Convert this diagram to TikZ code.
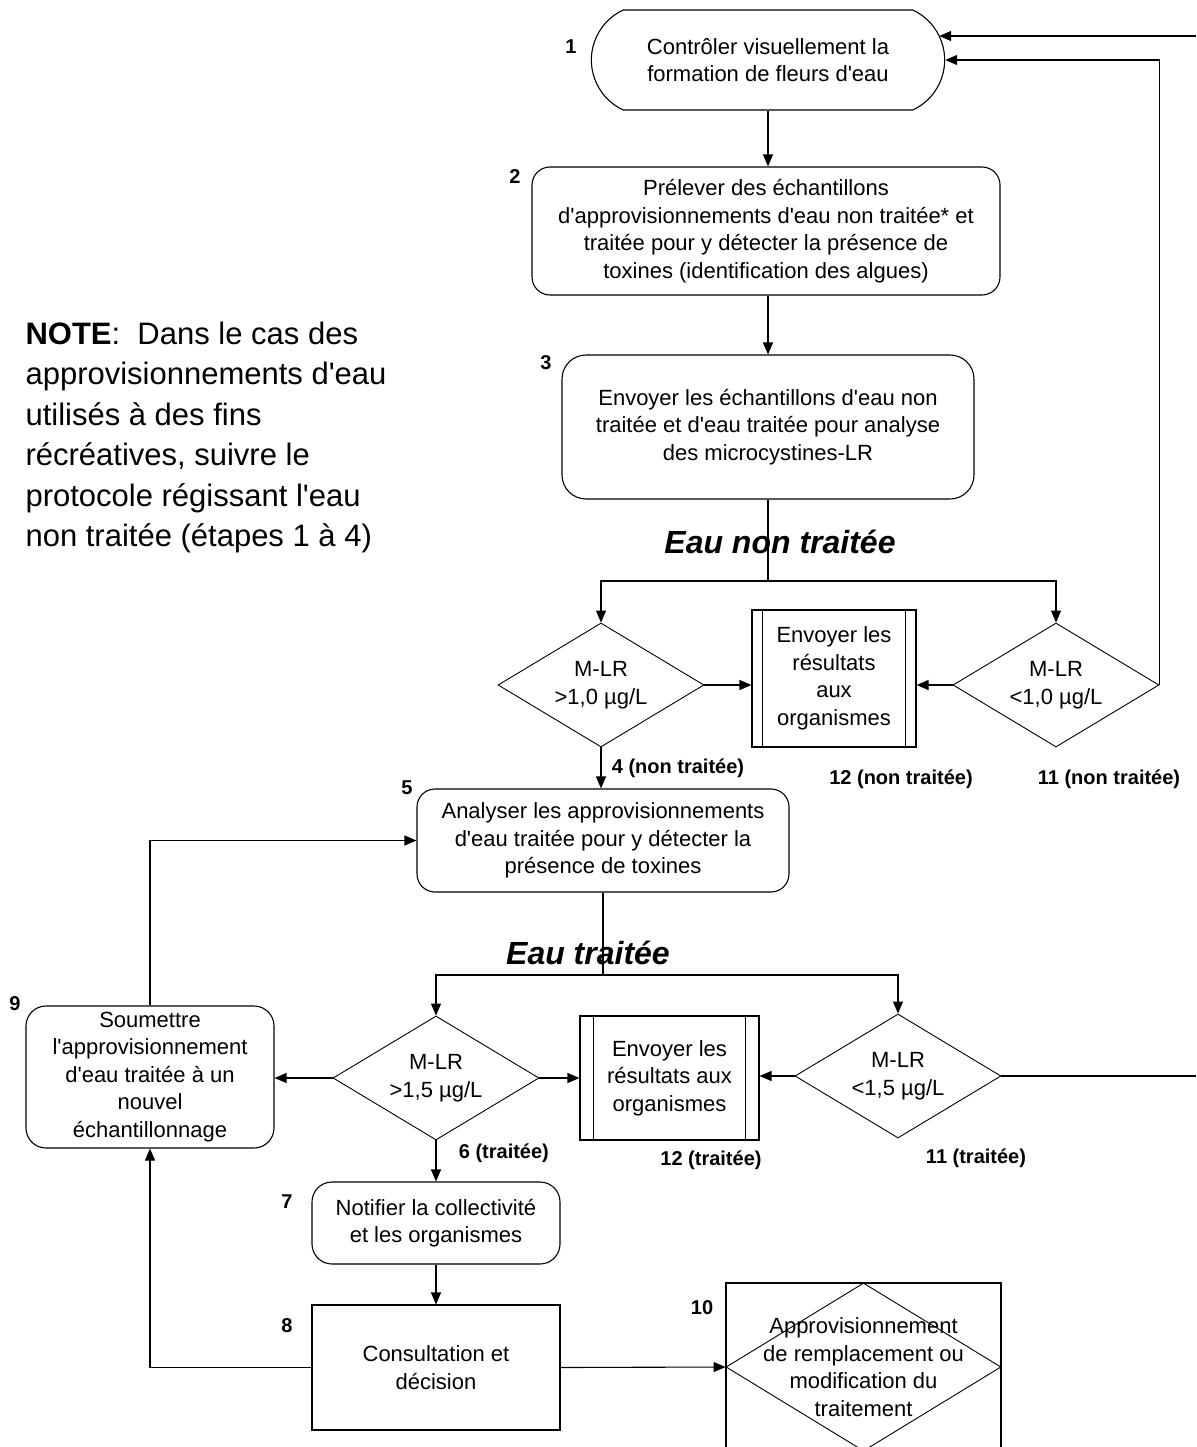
\documentclass[tikz,border=0pt]{standalone}
\usepackage{fontspec}
\setmainfont{Liberation Sans}[Ligatures=TeXOff]
\usetikzlibrary{arrows.meta, shapes.geometric, shapes.misc, calc}

\tikzset{
  >={Triangle[length=12pt,width=10pt]},
  stepbox/.style={draw, rounded corners=18pt, align=center, inner sep=2pt},
  sendbox/.style={draw, align=center, inner sep=2pt},
  mlrtest/.style={draw, diamond, aspect=1.66, inner sep=0pt, align=center, line width=0.9pt,
                  minimum width=206pt, minimum height=124pt},
  steplbl/.style={font=\fontsize{20}{24}\selectfont\bfseries},
  flowlbl/.style={font=\fontsize{32}{38}\selectfont\bfseries\itshape},
}

\begin{document}
\begin{tikzpicture}[x=1pt, y=-1pt, line width=1.1pt, font=\fontsize{22}{27.5}\selectfont]
  \useasboundingbox (0,0) rectangle (1196,1447);
  \clip (0,0) rectangle (1196,1447);

  % note on the left
  \node[anchor=north west, align=left, inner sep=0pt, font=\fontsize{31}{40.5}\selectfont] (note) at (25,321)
    {\textbf{NOTE}:\ \ Dans le cas des\\approvisionnements d'eau\\utilisés à des fins\\récréatives, suivre le\\protocole régissant l'eau\\non traitée (étapes 1 à 4)};

  % eau non traitee
  \node[draw, rounded rectangle, rounded rectangle arc length=130, minimum width=360pt, minimum height=100pt,
        align=center] (step1) at (768,60) {Contrôler visuellement la\\formation de fleurs d'eau};
  \node[stepbox, minimum width=468pt, minimum height=128pt] (step2) at (766,231)
    {Prélever des échantillons\\d'approvisionnements d'eau non traitée* et\\traitée pour y détecter la présence de\\toxines (identification des algues)};
  \node[stepbox, rounded corners=24pt, minimum width=412pt, minimum height=144pt] (step3) at (768,427)
    {Envoyer les échantillons d'eau non\\traitée et d'eau traitée pour analyse\\des microcystines-LR};
  \node[flowlbl] (untreated) at (780,542) {Eau non traitée};
  \coordinate (split1) at (768,581);
  \node[mlrtest] (mhigh) at (601,685) {M-LR\\>1,0 µg/L};
  \node[mlrtest] (mlow) at (1056,685) {M-LR\\<1,0 µg/L};
  \node[sendbox, minimum width=164pt, minimum height=137pt] (results) at (834,678.5)
    {Envoyer les\\résultats\\aux\\organismes};

  % eau traitee
  \node[stepbox, minimum width=372pt, minimum height=103pt] (step5) at (603,840.5)
    {Analyser les approvisionnements\\d'eau traitée pour y détecter la\\présence de toxines};
  \node[flowlbl] (treated) at (588,953) {Eau traitée};
  \coordinate (split2) at (603,975);
  \node[mlrtest] (thigh) at (436,1078) {M-LR\\>1,5 µg/L};
  \node[mlrtest] (tlow) at (898,1076) {M-LR\\<1,5 µg/L};
  \node[sendbox, minimum width=179pt, minimum height=124pt] (tresults) at (669.5,1078)
    {Envoyer les\\résultats aux\\organismes};
  \node[stepbox, rounded corners=20pt, minimum width=248pt, minimum height=142pt] (step9) at (150,1077)
    {Soumettre\\l'approvisionnement\\d'eau traitée à un\\nouvel\\échantillonnage};
  \node[stepbox, rounded corners=20pt, minimum width=248pt, minimum height=82pt] (step7) at (436,1223)
    {Notifier la collectivité\\et les organismes};
  \node[sendbox, minimum width=248pt, minimum height=125pt] (step8) at (436,1367.5) {Consultation et\\décision};
  \draw (726,1283) rectangle (1001,1470);
  \node[draw, diamond, line width=0.9pt, inner sep=0pt, minimum width=275pt, minimum height=168pt] (step10) at (863.5,1367) {};
  \node[align=center, inner sep=0pt] (step10txt) at (step10)
    {Approvisionnement\\de remplacement ou\\modification du\\traitement};

  % double sides of the result boxes
  \foreach \n/\d in {results/11, tresults/14} {
    \draw ([xshift=\d pt]\n.north west) -- ([xshift=\d pt]\n.south west);
    \draw ([xshift=-\d pt]\n.north east) -- ([xshift=-\d pt]\n.south east);
  }

  % step numbers
  \foreach \t/\x/\y in {1/571/47, 2/515/177, 3/546/363, 5/407/788, 7/287/1202, 8/287/1326, 9/15/1004, 10/702/1308}
    \node[steplbl] (n\t) at (\x,\y) {\t};
  \node[steplbl, anchor=west] (o4) at (608,768) {4 (non traitée)};
  \node[steplbl] (o12a) at (901,779) {12 (non traitée)};
  \node[steplbl] (o11a) at (1109,779) {11 (non traitée)};
  \node[steplbl, anchor=west] (o6) at (455,1153) {6 (traitée)};
  \node[steplbl] (o12b) at (711,1160) {12 (traitée)};
  \node[steplbl] (o11b) at (976,1158) {11 (traitée)};

  % connectors
  \coordinate (backT) at (1196,36);
  \coordinate (backB) at (1196,1076);
  \draw[->] (step1.south) -- (step1.south |- step2.north);
  \draw[->] (step2.south -| step3.north) -- (step3.north);
  \draw (step3.south) -- (split1);
  \draw[->] (split1) -| (mhigh.north);
  \draw[->] (split1) -| (mlow.north);
  \draw[->] (mhigh.east) -- (mhigh.east -| results.west);
  \draw[->] (mlow.west) -- (mlow.west -| results.east);
  \draw[->] (mlow.east) |- (step1.east);
  \draw[->] (backT) -- ($(backT -| step1.east)+(-6,0)$);
  \draw[->] (mhigh.south) -- (mhigh.south |- step5.north);
  \draw (step5.south) -- (split2);
  \draw[->] (split2) -| (thigh.north);
  \draw[->] (split2) -| (tlow.north);
  \draw[->] (thigh.west) -- (thigh.west -| step9.east);
  \draw[->] (thigh.east) -- (thigh.east -| tresults.west);
  \draw[->] (tlow.west) -- (tlow.west -| tresults.east);
  \draw (tlow.east) -- (backB);
  \draw[->] (thigh.south) -- (thigh.south |- step7.north);
  \draw[->] (step7.south) -- (step8.north);
  \draw[->] (step9.north) |- (step5.west);
  \draw[->] (step8.west) -| (step9.south);
  \draw[->] (step8.east) -- (step10.west);
\end{tikzpicture}
\end{document}
